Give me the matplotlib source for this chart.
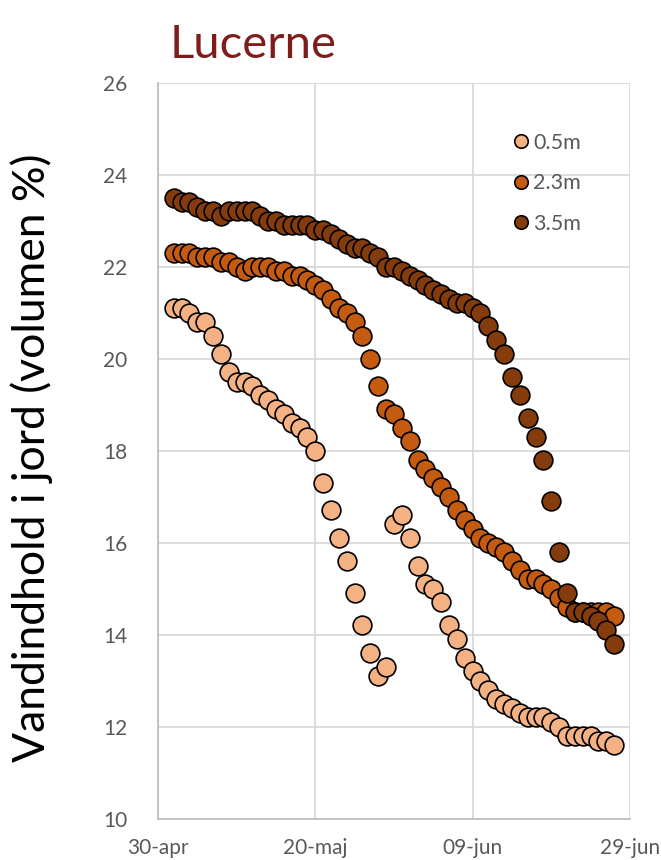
import matplotlib.pyplot as plt
import pandas as pd

plt.rcParams['font.family'] = ['Lato', 'DejaVu Sans']

# daily readings, 2 May - 27 Jun
dates = pd.date_range("2015-05-02", "2015-06-27", freq="D")

depth_05 = [21.1, 21.1, 21.0, 20.8, 20.8, 20.5, 20.1, 19.7, 19.5, 19.5,
            19.4, 19.2, 19.1, 18.9, 18.8, 18.6, 18.5, 18.3, 18.0, 17.3,
            16.7, 16.1, 15.6, 14.9, 14.2, 13.6, 13.1, 13.3, 16.4, 16.6,
            16.1, 15.5, 15.1, 15.0, 14.7, 14.2, 13.9, 13.5, 13.2, 13.0,
            12.8, 12.6, 12.5, 12.4, 12.3, 12.2, 12.2, 12.2, 12.1, 12.0,
            11.8, 11.8, 11.8, 11.8, 11.7, 11.7, 11.6]
depth_23 = [22.3, 22.3, 22.3, 22.2, 22.2, 22.2, 22.1, 22.1, 22.0, 21.9,
            22.0, 22.0, 22.0, 21.9, 21.9, 21.8, 21.8, 21.7, 21.6, 21.5,
            21.3, 21.1, 21.0, 20.8, 20.5, 20.0, 19.4, 18.9, 18.8, 18.5,
            18.2, 17.8, 17.6, 17.4, 17.2, 17.0, 16.7, 16.5, 16.3, 16.1,
            16.0, 15.9, 15.8, 15.6, 15.4, 15.2, 15.2, 15.1, 15.0, 14.8,
            14.6, 14.5, 14.5, 14.5, 14.5, 14.5, 14.4]
depth_35 = [23.5, 23.4, 23.4, 23.3, 23.2, 23.2, 23.1, 23.2, 23.2, 23.2,
            23.2, 23.1, 23.0, 23.0, 22.9, 22.9, 22.9, 22.9, 22.8, 22.8,
            22.7, 22.6, 22.5, 22.4, 22.4, 22.3, 22.2, 22.0, 22.0, 21.9,
            21.8, 21.7, 21.6, 21.5, 21.4, 21.3, 21.2, 21.2, 21.1, 21.0,
            20.7, 20.4, 20.1, 19.6, 19.2, 18.7, 18.3, 17.8, 16.9, 15.8,
            14.9, 14.5, 14.5, 14.4, 14.3, 14.1, 13.8]

labels = ["0.5m", "2.3m", "3.5m"]
colors = ["#F4B183", "#C55A11", "#843C0C"]

tick_dates = pd.to_datetime(["2015-04-30", "2015-05-20", "2015-06-09", "2015-06-29"])
tick_labels = ["30-apr", "20-maj", "09-jun", "29-jun"]

fig = plt.figure(figsize=(6.61, 8.60), dpi=100)
ax = fig.add_axes([0.239, 0.048, 0.714, 0.856])

for y, lab, col in zip([depth_05, depth_23, depth_35], labels, colors):
    ax.plot(dates, y, linestyle="none", marker="o", markersize=13.5,
            markerfacecolor=col, markeredgecolor="black", markeredgewidth=1.2,
            label=lab, zorder=3)

ax.set_xlim(tick_dates[0], tick_dates[-1])
ax.set_xticks(tick_dates)
ax.set_xticklabels(tick_labels)
ax.set_ylim(10, 26)
ax.set_yticks(range(10, 27, 2))

ax.grid(True, color="#D9D9D9", linewidth=1.3, zorder=0)
ax.set_axisbelow(True)
for side in ["top", "right"]:
    ax.spines[side].set_visible(False)
ax.spines["left"].set_color("#BFBFBF")
ax.spines["bottom"].set_color("#BFBFBF")
ax.spines["left"].set_linewidth(1.3)
ax.spines["bottom"].set_linewidth(1.3)
ax.tick_params(length=0, labelsize=15, labelcolor="#595959", pad=14)
ax.tick_params(axis="y", pad=22)

ax.set_ylabel("Vandindhold i jord (volumen %)", fontsize=32)
ax.yaxis.set_label_coords(-0.222, 0.49)
fig.text(0.257, 0.933, "Lucerne", fontsize=34, color="#7F1D1D")

ax.legend(loc="upper left", bbox_to_anchor=(0.71, 0.958), frameon=False,
          markerscale=0.72, handlelength=0.8, handletextpad=0.15,
          labelspacing=0.95, fontsize=15.5, labelcolor="#595959")

fig.savefig("out.png", dpi=100)
